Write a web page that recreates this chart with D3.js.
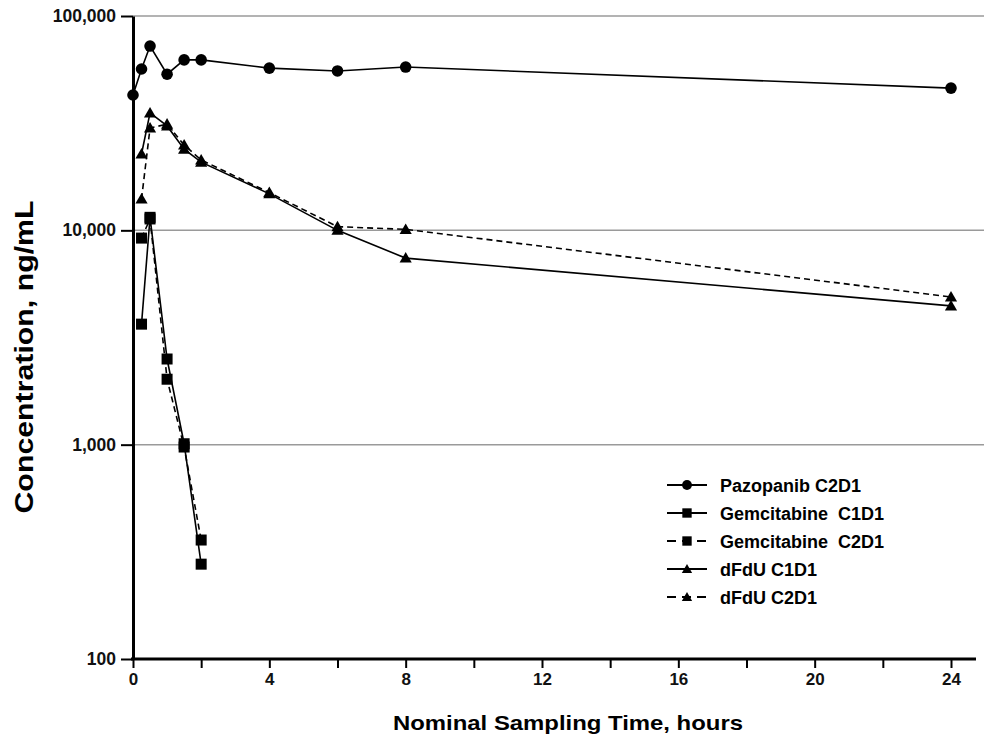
<!DOCTYPE html>
<html>
<head>
<meta charset="utf-8">
<script src="https://cdn.jsdelivr.net/npm/d3@7"></script>
<style>
  body { margin: 0; background: #fff; }
  svg { display: block; }
  text { font-family: Arial, "Liberation Sans", Helvetica, sans-serif; font-weight: bold; }
</style>
</head>
<body>
<svg id="chart" width="984" height="736"></svg>
<script>
// sampling times (hours)
const times = [0, 0.25, 0.5, 1, 1.5, 2, 4, 6, 8, 24]
const gemTimes = [0.25, 0.5, 1, 1.5, 2]
const dfduTimes = [0.25, 0.5, 1, 1.5, 2, 4, 6, 8, 24]

// concentrations, ng/mL
const pazopanibC2D1 = [42800, 56600, 72400, 53500, 62400, 62400, 57100, 55400, 57800, 46100]
const gemC1D1 = [3650, 11500, 2510, 1010, 277]
const gemC2D1 = [9200, 11300, 2020, 975, 359]
const dfduC1D1 = [22700, 35300, 30700, 23900, 20800, 14800, 10000, 7420, 4440]
const dfduC2D1 = [14000, 30000, 31300, 25000, 21300, 15000, 10400, 10100, 4890]

const xTicks = [0, 2, 4, 6, 8, 10, 12, 14, 16, 18, 20, 22, 24]
const yTicks = [100, 1000, 10000, 100000]

const series = [
  {name: 'Pazopanib C2D1', t: times, v: pazopanibC2D1, marker: 'circle', dash: null},
  {name: 'Gemcitabine  C1D1', t: gemTimes, v: gemC1D1, marker: 'square', dash: null},
  {name: 'Gemcitabine  C2D1', t: gemTimes, v: gemC2D1, marker: 'square', dash: '6,4'},
  {name: 'dFdU C1D1', t: dfduTimes, v: dfduC1D1, marker: 'triangle', dash: null},
  {name: 'dFdU C2D1', t: dfduTimes, v: dfduC2D1, marker: 'triangle', dash: '6,4'}
]

const svg = d3.select('#chart')
const mLeft = 133, mRight = 951, mTop = 16, mBottom = 659

const x = d3.scaleLinear().domain([0, 24]).range([mLeft, mRight])
const y = d3.scaleLog().domain([100, 100000]).range([mBottom, mTop])

// gridlines
svg.append('g')
  .selectAll('line')
  .data(yTicks.slice(1))
  .enter().append('line')
  .attr('x1', mLeft).attr('x2', 984)
  .attr('y1', d => y(d)).attr('y2', d => y(d))
  .attr('stroke', '#9a9a9a')
  .attr('stroke-width', 1.5)

// y axis
const yAxis = svg.append('g')
  .attr('transform', `translate(${mLeft},0)`)
  .call(d3.axisLeft(y).tickValues(yTicks).tickFormat(d3.format(',')).tickSize(12).tickSizeOuter(0))
  .attr('font-size', 17.5)
  .attr('font-family', 'Arial, sans-serif')
yAxis.select('.domain').attr('stroke-width', 3)
yAxis.selectAll('.tick line').attr('stroke-width', 2)
yAxis.selectAll('.tick text').attr('x', -17).attr('fill', '#111')

// x axis
const xAxis = svg.append('g')
  .attr('transform', `translate(0,${mBottom})`)
  .call(d3.axisBottom(x).tickValues(xTicks).tickFormat(d => d % 4 === 0 ? d : '').tickSize(9).tickSizeOuter(0))
  .attr('font-size', 17)
  .attr('font-family', 'Arial, sans-serif')
xAxis.select('.domain').attr('d', `M${mLeft - 2},0H976`).attr('stroke-width', 3)
xAxis.selectAll('.tick line').attr('stroke-width', 2)
xAxis.selectAll('.tick text').attr('y', 14).attr('fill', '#111')

// axis titles
svg.append('text')
  .attr('transform', 'translate(33,357) rotate(-90)')
  .style('text-anchor', 'middle')
  .style('font-size', '26px')
  .attr('textLength', 313)
  .attr('lengthAdjust', 'spacingAndGlyphs')
  .text('Concentration, ng/mL')

svg.append('text')
  .attr('x', 568).attr('y', 730)
  .style('text-anchor', 'middle')
  .style('font-size', '21px')
  .attr('textLength', 350)
  .attr('lengthAdjust', 'spacingAndGlyphs')
  .text('Nominal Sampling Time, hours')

function drawMarker(g, type, cx, cy, k) {
  k = k || 1
  if (type === 'circle') {
    g.append('circle').attr('cx', cx).attr('cy', cy).attr('r', 5.8 * k).attr('fill', '#000')
  } else if (type === 'square') {
    const s = 11 * k
    g.append('rect').attr('x', cx - s / 2).attr('y', cy - s / 2).attr('width', s).attr('height', s).attr('fill', '#000')
  } else {
    g.append('path').attr('d', d3.symbol().type(d3.symbolTriangle).size(64 * k * k)()).attr('transform', `translate(${cx},${cy + 1})`).attr('fill', '#000')
  }
}

const line = d3.line().x(d => x(d[0])).y(d => y(d[1]))

series.forEach(s => {
  const pts = s.t.map((t, i) => [t, s.v[i]])
  const g = svg.append('g')
  g.append('path')
    .attr('d', line(pts))
    .attr('fill', 'none')
    .attr('stroke', '#000')
    .attr('stroke-width', 1.6)
    .attr('stroke-dasharray', s.dash)
  pts.forEach(p => drawMarker(g, s.marker, x(p[0]), y(p[1])))
})

// legend
const legend = svg.append('g').attr('transform', 'translate(667,485)')
series.forEach((s, i) => {
  const row = legend.append('g').attr('transform', `translate(0,${i * 28})`)
  row.append('line')
    .attr('x1', 0).attr('x2', 40).attr('y1', 0).attr('y2', 0)
    .attr('stroke', '#000').attr('stroke-width', 1.8)
    .attr('stroke-dasharray', s.dash ? '9,6' : null)
  drawMarker(row, s.marker, 20, 0, 0.85)
  row.append('text')
    .attr('x', 53).attr('y', 6.5)
    .style('font-size', '18px')
    .style('white-space', 'pre')
    .text(s.name)
})
</script>
</body>
</html>
